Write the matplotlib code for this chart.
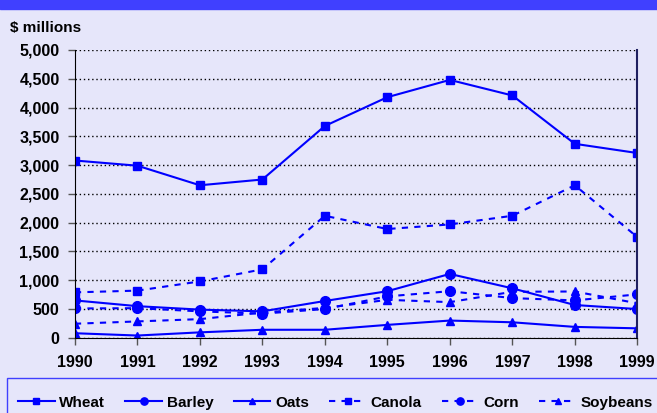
import matplotlib.pyplot as plt
from matplotlib.patches import Rectangle

plt.rcParams['font.family'] = ['Liberation Sans', 'DejaVu Sans']
plt.rcParams['font.weight'] = 'bold'

years = [1990, 1991, 1992, 1993, 1994, 1995, 1996, 1997, 1998, 1999]
wheat = [3080, 2990, 2650, 2750, 3680, 4180, 4480, 4210, 3370, 3210]
barley = [650, 550, 490, 460, 640, 810, 1110, 860, 570, 500]
oats = [80, 40, 95, 140, 140, 225, 300, 270, 190, 165]
canola = [790, 820, 980, 1190, 2120, 1890, 1970, 2120, 2650, 1750]
corn = [510, 515, 460, 420, 500, 720, 810, 690, 650, 755]
soybeans = [245, 285, 325, 440, 520, 660, 620, 800, 805, 600]

bg = '#E6E6FA'
blue = '#0000FF'

fig = plt.figure(figsize=(6.57, 4.13), dpi=100, facecolor=bg)
# blue title band at the top, cut off
fig.patches.append(Rectangle((0, 0.978), 1, 0.03, transform=fig.transFigure,
                             color='#4040FF', zorder=0))
# legend box frame
fig.patches.append(Rectangle((0.011, -0.01), 1.0, 0.095, transform=fig.transFigure,
                             facecolor='none', edgecolor='#4040FF', lw=1, zorder=0))

ax = fig.add_axes([0.114, 0.182, 0.856, 0.697])
ax.set_facecolor(bg)

dash = (0, (3, 3))
ax.plot(years, wheat, color=blue, lw=1.5, marker='s', ms=6, label='Wheat')
ax.plot(years, barley, color=blue, lw=1.5, marker='o', ms=7, label='Barley')
ax.plot(years, oats, color=blue, lw=1.5, marker='^', ms=6, label='Oats')
ax.plot(years, canola, color=blue, lw=1.5, ls=dash, marker='s', ms=6, label='Canola')
ax.plot(years, corn, color=blue, lw=1.5, ls=dash, marker='o', ms=7, label='Corn')
ax.plot(years, soybeans, color=blue, lw=1.5, ls=dash, marker='^', ms=6, label='Soybeans')

ax.set_xlim(1990, 1999)
ax.set_ylim(0, 5000)
ax.set_xticks(years)
ax.set_yticks(range(0, 5001, 500))
ax.set_yticklabels([f'{v:,}' for v in range(0, 5001, 500)])
ax.tick_params(labelsize=11.5, length=5, width=1, color='#555555')
ax.tick_params(axis='x', pad=7)
ax.tick_params(axis='y', pad=6)
for lbl in ax.get_xticklabels() + ax.get_yticklabels():
    lbl.set_fontweight('bold')
ax.yaxis.grid(True, color='black', ls=(0, (1, 2)), lw=1)
ax.set_axisbelow(True)
ax.spines['top'].set_visible(False)
ax.spines['right'].set_color('#202060')
ax.spines['right'].set_linewidth(1.5)

fig.text(0.015, 0.932, '\\$ millions', fontsize=11, fontweight='bold', va='center')

handles, labels = ax.get_legend_handles_labels()
leg = fig.legend(handles, labels, loc='center', bbox_to_anchor=(0.018, 0.025, 0.985, 0),
                 mode='expand', ncol=6, frameon=False, markerscale=0.75,
                 handlelength=2.4, handletextpad=0.3, columnspacing=0.6,
                 borderaxespad=0, prop={'weight': 'bold', 'size': 11})

fig.savefig('out.png', facecolor=bg)
